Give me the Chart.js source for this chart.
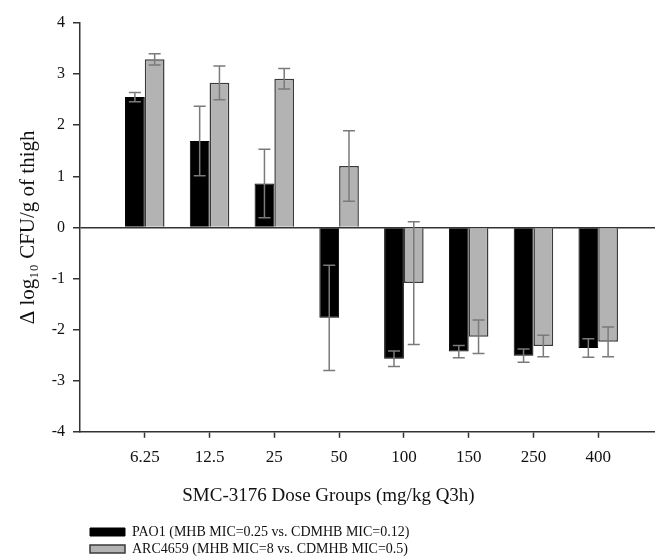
<!DOCTYPE html>
<html>
<head>
<meta charset="utf-8">
<style>
  body { margin: 0; overflow: hidden; background: #fff; }
  #wrap { width: 673px; height: 559px; }
</style>
</head>
<body>
<div id="wrap">
  <canvas id="doseChart"></canvas>
</div>

<script src="https://cdn.jsdelivr.net/npm/chart.js"></script>

<script>
  // dose groups (mg/kg Q3h)
  const doses = ['6.25', '12.5', '25', '50', '100', '150', '250', '400'];
  // change in log10 CFU/g of thigh
  const pao1 = [2.55, 1.69, 0.86, -1.77, -2.57, -2.43, -2.51, -2.36];
  const pao1Err = [0.09, 0.68, 0.67, 1.03, 0.15, 0.12, 0.13, 0.18];
  const arc4659 = [3.29, 2.83, 2.91, 1.20, -1.09, -2.14, -2.32, -2.24];
  const arc4659Err = [0.11, 0.33, 0.20, 0.69, 1.20, 0.33, 0.21, 0.29];
  const yTicks = [-4, -3, -2, -1, 0, 1, 2, 3, 4];

  // empty slot on each side so the groups sit one slot in from the axis
  const labels = [''].concat(doses, ['']);
  const pad = arr => [null].concat(arr, [null]);
  const errs = [pad(pao1Err), pad(arc4659Err)];

  const serif = 'Liberation Serif';
  const ink = '#111';

  // vertical error bars with caps
  const errorBars = {
    id: 'errorBars',
    afterDatasetsDraw(chart) {
      const ctx = chart.ctx;
      const y = chart.scales.y;
      ctx.save();
      ctx.strokeStyle = '#7a7a7a';
      ctx.lineWidth = 1.5;
      chart.data.datasets.forEach((ds, i) => {
        chart.getDatasetMeta(i).data.forEach((bar, j) => {
          const v = ds.data[j];
          const e = errs[i][j];
          if (v == null || e == null) return;
          const top = y.getPixelForValue(v + e);
          const bot = y.getPixelForValue(v - e);
          ctx.beginPath();
          ctx.moveTo(bar.x, top); ctx.lineTo(bar.x, bot);
          ctx.moveTo(bar.x - 6, top); ctx.lineTo(bar.x + 6, top);
          ctx.moveTo(bar.x - 6, bot); ctx.lineTo(bar.x + 6, bot);
          ctx.stroke();
        });
      });
      ctx.restore();
    }
  };

  // nudge legend and axis title to where the original has them
  const nudge = {
    id: 'nudge',
    afterLayout(chart) {
      chart.legend.left += 7;
      chart.legend.right += 7;
      chart.titleBlock.left -= 7;
      chart.titleBlock.right -= 7;
    }
  };

  new Chart(document.getElementById('doseChart'), {
    type: 'bar',
    data: {
      labels: labels,
      datasets: [
        {
          label: 'PAO1 (MHB MIC=0.25 vs. CDMHB MIC=0.12)',
          data: pad(pao1),
          backgroundColor: '#000',
          borderColor: '#000',
          borderWidth: 1
        },
        {
          label: 'ARC4659 (MHB MIC=8 vs. CDMHB MIC=0.5)',
          data: pad(arc4659),
          backgroundColor: '#b3b3b3',
          borderColor: '#3a3a3a',
          borderWidth: 1.5
        }
      ]
    },
    options: {
      responsive: true,
      maintainAspectRatio: false,
      animation: false,
      categoryPercentage: 0.61,
      barPercentage: 1,
      layout: { padding: { top: 23, right: 2, bottom: -7, left: 0 } },
      scales: {
        x: {
          offset: false,
          border: { display: true, color: '#333', width: 1.5 },
          grid: {
            offset: false,
            drawOnChartArea: false,
            tickLength: 6,
            tickColor: c => (c.index === 0 || c.index === labels.length - 1) ? 'rgba(0,0,0,0)' : '#333',
            tickWidth: 1.5
          },
          ticks: {
            autoSkip: false,
            maxRotation: 0,
            padding: 10,
            color: ink,
            font: { family: serif, size: 17 }
          }
        },
        y: {
          min: -4,
          max: 4,
          afterBuildTicks: s => { s.ticks = yTicks.map(v => ({ value: v })); },
          afterFit: s => { s.width = 80; },
          border: { display: true, color: '#333', width: 1.5 },
          grid: {
            color: c => c.tick && c.tick.value === 0 ? '#333' : 'rgba(0,0,0,0)',
            lineWidth: 1.5,
            tickLength: 7,
            tickColor: '#333',
            tickWidth: 1.5
          },
          ticks: {
            padding: 8,
            color: ink,
            font: { family: serif, size: 16 }
          },
          title: {
            display: true,
            text: 'Δ log₁₀ CFU/g of thigh',
            color: ink,
            font: { family: serif, size: 21 },
            padding: { top: 16, bottom: 0 }
          }
        }
      },
      plugins: {
        tooltip: { enabled: false },
        title: {
          display: true,
          position: 'bottom',
          weight: 500,
          text: 'SMC-3176 Dose Groups (mg/kg Q3h)',
          color: ink,
          font: { family: serif, size: 19, weight: 'normal' },
          padding: { top: 6, bottom: 15 }
        },
        legend: {
          position: 'bottom',
          align: 'start',
          fullSize: false,
          labels: {
            boxWidth: 35,
            boxHeight: 8,
            padding: 3,
            color: ink,
            font: { family: serif, size: 14 }
          }
        }
      }
    },
    plugins: [errorBars, nudge]
  });
</script>
</body>
</html>
